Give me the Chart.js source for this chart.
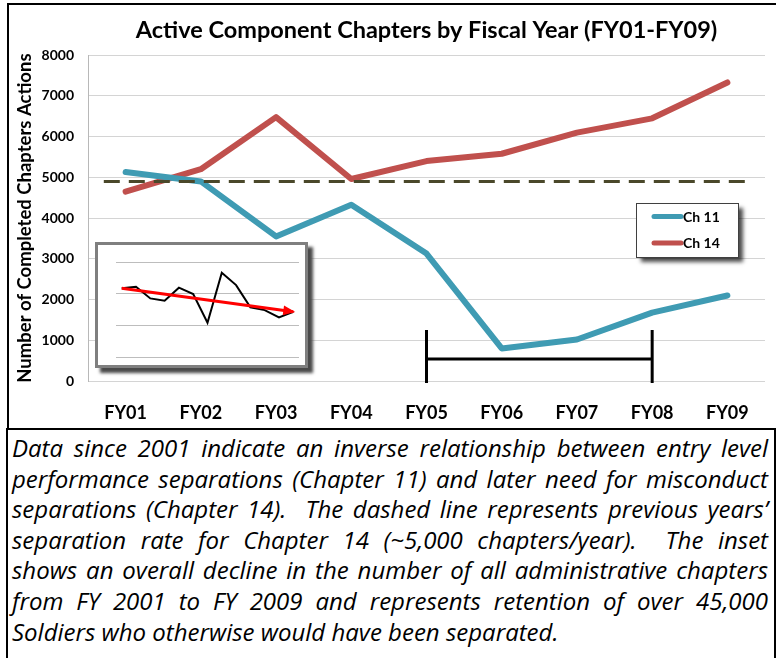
<!DOCTYPE html>
<html><head><meta charset="utf-8">
<script src="https://cdn.jsdelivr.net/npm/chart.js@4"></script>
<style>
html,body{margin:0;padding:0;background:#fff;}
#wrap{position:relative;width:776px;height:658px;overflow:hidden;background:#fff;}
#frame{position:absolute;left:7px;top:3px;width:800px;height:440px;border-left:2px solid #000;border-top:2px solid #000;}
#main{position:absolute;left:0;top:0;}
#insetBox{position:absolute;left:95px;top:242px;width:207px;height:120px;border:3px solid #7f7f7f;background:#fff;box-shadow:5px 5px 3px #4a4a4a;}
#inset{position:absolute;left:0;top:0;}
#caption{position:absolute;left:6px;top:428px;width:770px;height:250px;border:2px solid #000;box-sizing:border-box;font-family:'Open Sans',Lato,sans-serif;font-style:italic;font-size:24px;line-height:30.6px;padding:3px 6px 0 4px;color:#000;background:#fff;}
.l{text-align:justify;text-align-last:justify;white-space:nowrap;}
.last{text-align:left;white-space:nowrap;}
</style>
</head><body>
<div id="wrap">
  <div id="frame"></div>
  <canvas id="main" width="776" height="430"></canvas>
  <div id="insetBox"><canvas id="inset" width="207" height="120"></canvas></div>
  <div id="caption">
    <div class="l">Data since 2001 indicate an inverse relationship between entry level</div>
    <div class="l">performance separations (Chapter 11) and later need for misconduct</div>
    <div class="l">separations (Chapter 14).&nbsp; The dashed line represents previous years’</div>
    <div class="l">separation rate for Chapter 14 (~5,000 chapters/year).&nbsp; The inset</div>
    <div class="l">shows an overall decline in the number of all administrative chapters</div>
    <div class="l">from FY 2001 to FY 2009 and represents retention of over 45,000</div>
    <div class="last">Soldiers who otherwise would have been separated.</div>
  </div>
</div>
<script>
// ---- data ----
const categories = ['FY01','FY02','FY03','FY04','FY05','FY06','FY07','FY08','FY09'];
const ch11 = [5130, 4900, 3550, 4330, 3130, 800, 1020, 1680, 2100];
const ch14 = [4650, 5200, 6480, 4960, 5400, 5580, 6100, 6450, 7330];
const seriesNames = ['Ch 11', 'Ch 14'];
const yTickValues = [0,1000,2000,3000,4000,5000,6000,7000,8000];
const previousRate = 4900;              // dashed reference line value
const dashedSpan = [-0.29, 8.24];       // category index span of dashed line
const bracketFrom = 'FY05', bracketTo = 'FY08';
const bracketLevel = 540, bracketTop = 1250, bracketBottom = -50;
// inset: overall administrative chapters (relative units)
const insetValues = [2.17, 2.22, 1.85, 1.78, 2.19, 1.99, 1.08, 2.66, 2.27, 1.57, 1.48, 1.25, 1.43];
const insetTrend = [2.17, 1.43];
const insetGrid = [0,1,2,3];

const FONT = 'Lato, "Open Sans", sans-serif';
const TEAL = '#3f9bb3', RED = '#c0504d';

const overlay = {
  id: 'overlay',
  afterDatasetsDraw(chart) {
    const ctx = chart.ctx, x = chart.scales.x, y = chart.scales.y;
    // dashed line
    ctx.save();
    ctx.strokeStyle = '#4a482a';
    ctx.lineWidth = 3;
    ctx.setLineDash([16, 9]);
    ctx.beginPath();
    ctx.moveTo(x.getPixelForValue(dashedSpan[0]), y.getPixelForValue(previousRate));
    ctx.lineTo(x.getPixelForValue(dashedSpan[1]), y.getPixelForValue(previousRate));
    ctx.stroke();
    ctx.restore();
    // bracket
    const i0 = categories.indexOf(bracketFrom), i1 = categories.indexOf(bracketTo);
    const xa = x.getPixelForValue(i0), xb = x.getPixelForValue(i1);
    ctx.save();
    ctx.strokeStyle = '#000';
    ctx.lineWidth = 3;
    ctx.beginPath();
    ctx.moveTo(xa, y.getPixelForValue(bracketLevel));
    ctx.lineTo(xb, y.getPixelForValue(bracketLevel));
    ctx.moveTo(xa, y.getPixelForValue(bracketTop));
    ctx.lineTo(xa, y.getPixelForValue(bracketBottom));
    ctx.moveTo(xb, y.getPixelForValue(bracketTop));
    ctx.lineTo(xb, y.getPixelForValue(bracketBottom));
    ctx.stroke();
    ctx.restore();
    // legend
    const lx = 636, ly = 203, lw = 102, lh = 54;
    ctx.save();
    ctx.shadowColor = 'rgba(0,0,0,0.7)';
    ctx.shadowOffsetX = 5; ctx.shadowOffsetY = 5; ctx.shadowBlur = 4;
    ctx.fillStyle = '#fff';
    ctx.fillRect(lx, ly, lw, lh);
    ctx.restore();
    ctx.save();
    ctx.strokeStyle = '#404040';
    ctx.lineWidth = 1;
    ctx.strokeRect(lx + 0.5, ly + 0.5, lw, lh);
    chart.data.datasets.forEach((ds, i) => {
      const yy = ly + 13.5 + i * 26.5;
      ctx.strokeStyle = ds.borderColor;
      ctx.lineWidth = 5;
      ctx.lineCap = 'round';
      ctx.beginPath();
      ctx.moveTo(lx + 18, yy);
      ctx.lineTo(lx + 45, yy);
      ctx.stroke();
      ctx.fillStyle = '#000';
      ctx.font = 'bold 14px ' + FONT;
      ctx.textBaseline = 'middle';
      ctx.fillText(ds.label, lx + 47, yy + 0.5);
    });
    ctx.restore();
  }
};

new Chart(document.getElementById('main'), {
  type: 'line',
  data: {
    labels: categories,
    datasets: [
      {label: seriesNames[0], data: ch11, borderColor: TEAL, backgroundColor: TEAL, borderWidth: 6, pointRadius: 0, tension: 0, borderCapStyle: 'round', borderJoinStyle: 'round'},
      {label: seriesNames[1], data: ch14, borderColor: RED, backgroundColor: RED, borderWidth: 6, pointRadius: 0, tension: 0, borderCapStyle: 'round', borderJoinStyle: 'round'}
    ]
  },
  options: {
    responsive: false, animation: false, devicePixelRatio: 1,
    layout: {padding: {left: 10, right: 11, top: 4, bottom: 0}},
    plugins: {
      legend: {display: false},
      tooltip: {enabled: false},
      title: {display: true, fullSize: false, text: 'Active Component Chapters by Fiscal Year (FY01-FY09)',
        color: '#000', font: {family: FONT, size: 23.5, weight: 'bold'}, padding: {top: 12, bottom: 11}}
    },
    scales: {
      x: {
        type: 'category', offset: true,
        grid: {display: false, drawTicks: false},
        border: {display: false},
        ticks: {color: '#000', font: {family: FONT, size: 18, weight: 'bold'}, padding: 21, maxRotation: 0},
        afterFit(s) { s.height = 49; }
      },
      y: {
        min: 0, max: 8000,
        afterBuildTicks(s) { s.ticks = yTickValues.map(v => ({value: v})); },
        ticks: {color: '#000', font: {family: FONT, size: 14, weight: 'bold'}, padding: 14, callback: v => String(v)},
        grid: {color: '#d4d4d4', lineWidth: 1, drawTicks: false},
        border: {display: true, color: '#b8b8b8', width: 1},
        title: {display: true, text: 'Number of Completed Chapters Actions', color: '#000',
          font: {family: FONT, size: 18.5, weight: 'bold'}, padding: {top: 4, bottom: 0}},
        afterFit(s) { s.width = 78; }
      }
    }
  },
  plugins: [overlay]
});

const arrowHead = {
  id: 'arrowHead',
  afterDatasetsDraw(chart) {
    const meta = chart.getDatasetMeta(1);
    const pts = meta.data;
    const a = pts[0], b = pts[pts.length - 1];
    const ang = Math.atan2(b.y - a.y, b.x - a.x);
    const ctx = chart.ctx, L = 10, W = 5;
    ctx.save();
    ctx.fillStyle = '#ff0000';
    ctx.beginPath();
    ctx.moveTo(b.x + Math.cos(ang) * 2, b.y + Math.sin(ang) * 2);
    ctx.lineTo(b.x - Math.cos(ang) * L - Math.sin(ang) * W, b.y - Math.sin(ang) * L + Math.cos(ang) * W);
    ctx.lineTo(b.x - Math.cos(ang) * L + Math.sin(ang) * W, b.y - Math.sin(ang) * L - Math.cos(ang) * W);
    ctx.closePath();
    ctx.fill();
    ctx.restore();
  }
};

new Chart(document.getElementById('inset'), {
  type: 'line',
  data: {
    datasets: [
      {data: insetValues.map((v, i) => ({x: i, y: v})), borderColor: '#000', borderWidth: 2, pointRadius: 0, tension: 0, order: 2},
      {data: [{x: 0, y: insetTrend[0]}, {x: insetValues.length - 1, y: insetTrend[1]}], borderColor: '#ff0000', borderWidth: 3, pointRadius: 0, tension: 0, order: 1}
    ]
  },
  options: {
    responsive: false, animation: false, devicePixelRatio: 1,
    layout: {padding: {left: 18, right: 6, top: 17, bottom: 8}},
    plugins: {legend: {display: false}, tooltip: {enabled: false}, title: {display: false}},
    scales: {
      x: {type: 'linear', min: -0.4, max: insetValues.length - 0.6, display: false},
      y: {min: 0, max: 3,
        afterBuildTicks(s) { s.ticks = insetGrid.map(v => ({value: v})); },
        ticks: {display: false},
        grid: {color: '#bdbdbd', lineWidth: 1, drawTicks: false},
        border: {display: false}
      }
    }
  },
  plugins: [arrowHead]
});
</script>
</body></html>
